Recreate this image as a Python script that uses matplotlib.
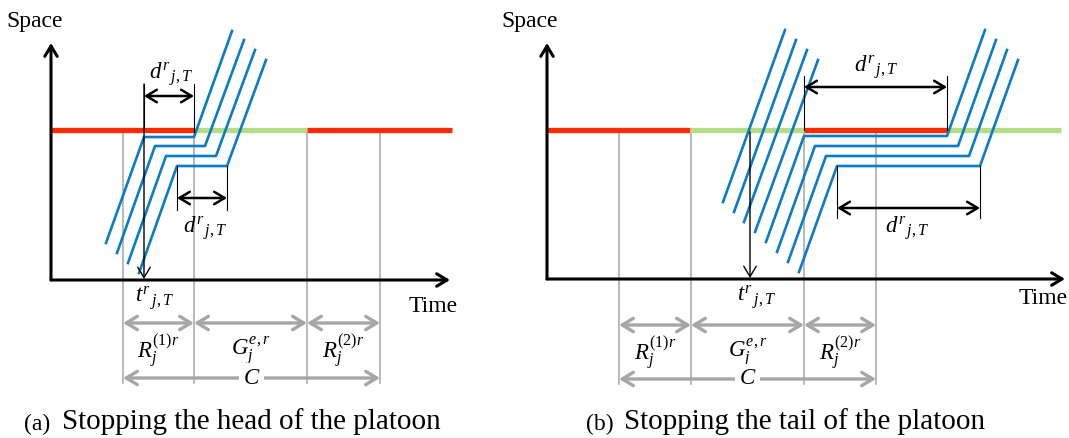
import matplotlib.pyplot as plt

plt.rcParams['font.family'] = ['Liberation Serif', 'DejaVu Serif']
plt.rcParams['mathtext.fontset'] = 'custom'
plt.rcParams['mathtext.rm'] = 'Liberation Serif'
plt.rcParams['mathtext.it'] = 'Liberation Serif:italic'

RED = '#ff2a00'
GREEN = '#b5dd88'
BLUE = '#0b7cc6'
GRAY = '#a6a6a6'

# Геометрия схемы в пикселях исходной картинки (y вниз)
# (a) остановка головы взвода
a_axes = dict(x0=51, y0=280, xtip=450, ytip=43)
a_phase_edges = [51, 194, 307, 452]
a_phases = ['R', 'G', 'R']
a_signal_y = 130
a_cycle_marks = [123, 194, 307, 380]
a_pass_x, a_pass_y = [], []
a_stop_x = [[106, 144, 194, 232], [117, 155, 205, 244],
            [128, 166, 216, 255], [139, 177, 227, 266]]
a_stop_y = [[243, 137, 137, 31], [253, 146, 146, 40],
            [263, 156, 156, 50], [273, 166, 166, 60]]
a_d_top = [144, 194, 84, 132, 96]        # x0, x1, y_top, y_bot, y_arrow
a_d_bot = [177, 227, 166, 210, 198]
a_t_x = 144
a_t_top = 84
a_labels = dict(d_top=(171, 74), d_bot=(205, 228), t=(155, 298),
                time=(433, 307), space=(35, 21))
a_gray_y = 323
a_lab_y = 351
a_c_y = 378

# (b) остановка хвоста взвода
b_axes = dict(x0=547, y0=279, xtip=1065, ytip=43)
b_phase_edges = [547, 690, 804, 947, 1061]
b_phases = ['R', 'G', 'R', 'G']
b_signal_y = 130
b_cycle_marks = [619, 691, 804, 876]
b_pass_x = [[723, 785], [734, 796], [744, 807], [755, 818]]
b_pass_y = [[202, 30], [212, 40], [222, 50], [232, 60]]
b_stop_x = [[766, 804, 947, 985], [777, 815, 958, 996],
            [788, 826, 969, 1007], [799, 837, 980, 1018]]
b_stop_y = [[242, 136, 136, 30], [252, 146, 146, 40],
            [262, 156, 156, 50], [272, 166, 166, 60]]
b_d_top = [804, 947, 76, 130, 87]
b_d_bot = [837, 980, 166, 218, 208]
b_t_x = 750
b_t_top = 132
b_labels = dict(d_top=(876, 67), d_bot=(907, 228), t=(757, 297),
                time=(1043, 298), space=(530, 21))
b_gray_y = 325
b_lab_y = 353
b_c_y = 379

phase_colors = {'R': RED, 'G': GREEN}
d_label = r'$d^{r}{}_{\,j,T}$'
t_label = r'$t^{r}{}_{\,j,T}$'
cycle_labels = [r'$R_j^{(1)r}$', r'$G_j^{e,r}$', r'$R_j^{(2)r}$']


def arrow(ax, p0, p1, style, color, lw, ms=15):
    ax.annotate('', xy=p1, xytext=p0,
                arrowprops=dict(arrowstyle=style + ',head_length=0.5,head_width=0.3',
                                color=color, lw=lw, shrinkA=0, shrinkB=0,
                                mutation_scale=ms))


def draw_panel(ax, axes, edges, phases, sig_y, marks, pass_x, pass_y,
               stop_x, stop_y, d_top, d_bot, t_x, t_top, labels,
               gray_y, lab_y, c_y):
    # серые вертикали цикла
    for x in marks:
        ax.plot([x, x], [sig_y + 3, c_y + 5], color=GRAY, lw=1.1, zorder=1)

    # фазы светофора
    for (x0, x1), ph in zip(zip(edges[:-1], edges[1:]), phases):
        ax.plot([x0, x1], [sig_y, sig_y], color=phase_colors[ph], lw=3.8,
                solid_capstyle='butt', zorder=2)

    # траектории
    for xs, ys in zip(pass_x, pass_y):
        ax.plot(xs, ys, color=BLUE, lw=1.9, zorder=3)
    for xs, ys in zip(stop_x, stop_y):
        ax.plot(xs, ys, color=BLUE, lw=1.9, zorder=3)

    # оси
    arrow(ax, (axes['x0'], axes['y0']), (axes['x0'], axes['ytip']), '->', 'black', 2.2)
    arrow(ax, (axes['x0'], axes['y0']), (axes['xtip'], axes['y0']), '->', 'black', 2.2)

    # размеры d
    for x0, x1, yt, yb, ya in (d_top, d_bot):
        ax.plot([x0, x0], [yt, yb], color='black', lw=0.8, zorder=4)
        ax.plot([x1, x1], [yt, yb], color='black', lw=0.8, zorder=4)
        arrow(ax, (x0, ya), (x1, ya), '<->', 'black', 1.8)

    # стрелка t
    arrow(ax, (t_x, t_top), (t_x, axes['y0'] - 1), '->', 'black', 1.0)

    ax.text(*labels['d_top'], d_label, fontsize=16.5, ha='center', va='center')
    ax.text(*labels['d_bot'], d_label, fontsize=16.5, ha='center', va='center')
    ax.text(*labels['t'], t_label, fontsize=16.5, ha='center', va='center')
    ax.text(*labels['time'], 'Time', fontsize=17, ha='center', va='center')
    ax.text(*labels['space'], 'Space', fontsize=17, ha='center', va='center')

    # серые интервалы
    for (x0, x1), lab in zip(zip(marks[:-1], marks[1:]), cycle_labels):
        arrow(ax, (x0, gray_y), (x1, gray_y), '<->', GRAY, 2.4, ms=16)
        ax.text((x0 + x1) / 2, lab_y, lab, fontsize=16.5, ha='center', va='center')
    arrow(ax, (marks[0], c_y), (marks[-1], c_y), '<->', GRAY, 2.4, ms=16)
    ax.text((marks[0] + marks[-1]) / 2, c_y, r'$C$', fontsize=16.5,
            ha='center', va='center',
            bbox=dict(facecolor='white', edgecolor='none', pad=3))


fig = plt.figure(figsize=(10.69, 4.38), dpi=100)
ax = fig.add_axes([0, 0, 1, 1])
ax.set_xlim(0, 1069)
ax.set_ylim(438, 0)
ax.axis('off')

draw_panel(ax, a_axes, a_phase_edges, a_phases, a_signal_y, a_cycle_marks,
           a_pass_x, a_pass_y, a_stop_x, a_stop_y, a_d_top, a_d_bot,
           a_t_x, a_t_top, a_labels, a_gray_y, a_lab_y, a_c_y)
draw_panel(ax, b_axes, b_phase_edges, b_phases, b_signal_y, b_cycle_marks,
           b_pass_x, b_pass_y, b_stop_x, b_stop_y, b_d_top, b_d_bot,
           b_t_x, b_t_top, b_labels, b_gray_y, b_lab_y, b_c_y)

# подписи
ax.text(24, 424, '(a)', fontsize=17, ha='left', va='center')
ax.text(62, 422, 'Stopping the head of the platoon', fontsize=21, ha='left', va='center')
ax.text(586, 424, '(b)', fontsize=17, ha='left', va='center')
ax.text(624, 422, 'Stopping the tail of the platoon', fontsize=21, ha='left', va='center')

plt.savefig('out.png', dpi=100)
